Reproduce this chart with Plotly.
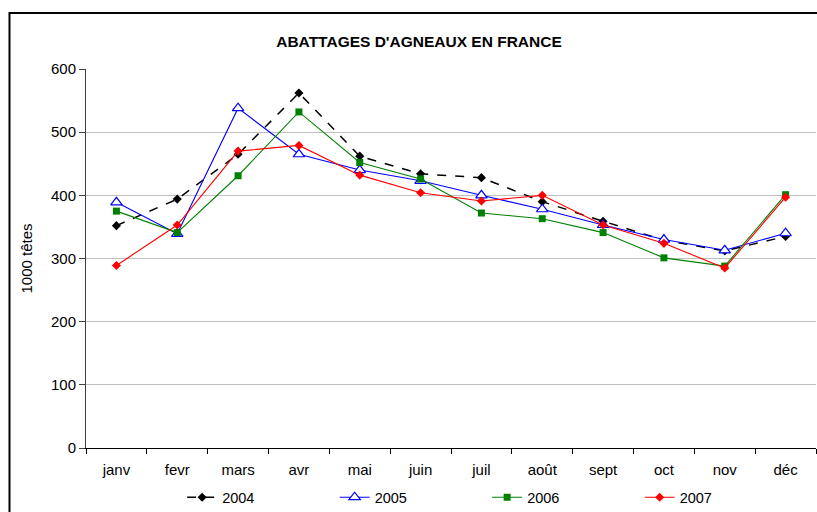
import plotly.graph_objects as go

months = ["janv", "fevr", "mars", "avr", "mai", "juin", "juil", "août", "sept", "oct", "nov", "déc"]
y2004 = [352, 394, 465, 562, 462, 434, 428, 390, 359, 329, 312, 335]
y2005 = [389, 339, 538, 465, 440, 423, 400, 378, 353, 330, 313, 340]
y2006 = [375, 341, 431, 532, 452, 426, 372, 363, 341, 301, 288, 401]
y2007 = [289, 353, 470, 479, 432, 404, 391, 400, 353, 324, 285, 397]

FONT = "Liberation Sans, Arial, sans-serif"

fig = go.Figure()
fig.add_trace(go.Scatter(x=months, y=y2004, name="2004", mode="lines+markers",
                         line=dict(color="black", width=1.5, dash="dash"),
                         marker=dict(symbol="diamond", size=7, color="black")))
fig.add_trace(go.Scatter(x=months, y=y2005, name="2005", mode="lines+markers",
                         line=dict(color="#0000ff", width=1.1),
                         marker=dict(symbol="triangle-up", size=10, color="white",
                                     line=dict(color="#0000ff", width=1.2))))
fig.add_trace(go.Scatter(x=months, y=y2006, name="2006", mode="lines+markers",
                         line=dict(color="#008000", width=1.1),
                         marker=dict(symbol="square", size=7, color="#008000")))
fig.add_trace(go.Scatter(x=months, y=y2007, name="2007", mode="lines+markers",
                         line=dict(color="#ff0000", width=1.1),
                         marker=dict(symbol="diamond", size=7, color="#ff0000")))

fig.update_layout(
    width=817, height=512,
    margin=dict(l=86, r=1, t=69, b=64, autoexpand=False),
    paper_bgcolor="white", plot_bgcolor="white",
    font=dict(family=FONT, size=15, color="black"),
    title=dict(text="<b>ABATTAGES D'AGNEAUX EN FRANCE</b>", x=419 / 817, xanchor="center",
               y=1 - 42 / 512, yanchor="middle", font=dict(size=15.5, family=FONT)),
    showlegend=True,
    legend=dict(orientation="h", x=0.1317, xanchor="left", y=-0.13, yanchor="middle",
                entrywidth=107.5, entrywidthmode="pixels", font=dict(size=14.5),
                bgcolor="rgba(0,0,0,0)"),
    xaxis=dict(type="category", showline=True, linecolor="black", linewidth=1,
               ticks="outside", tickson="boundaries", ticklen=5, tickcolor="black",
               ticklabelstandoff=8,
               showgrid=False, tickfont=dict(size=15), range=[-0.5, 11.5], automargin=False),
    yaxis=dict(range=[0, 600], dtick=100, showline=True, linecolor="#404040", linewidth=1,
               ticks="outside", ticklen=6, tickcolor="#404040", showgrid=True,
               gridcolor="#c0c0c0", gridwidth=1, zeroline=False,
               tickfont=dict(size=15), automargin=False,
               title=dict(text="1000 têtes", font=dict(size=15), standoff=14)),
    shapes=[dict(type="rect", xref="paper", yref="paper",
                 x0=-0.1048, x1=1.2, y0=-0.4, y1=1.1478,
                 line=dict(color="black", width=2), fillcolor="rgba(0,0,0,0)", layer="above")],
)

fig.write_html(
    "out.html",
    config={"displayModeBar": False},
    post_script="document.body.style.margin='0';document.body.style.overflow='hidden';"
                "document.documentElement.style.overflow='hidden';",
)
